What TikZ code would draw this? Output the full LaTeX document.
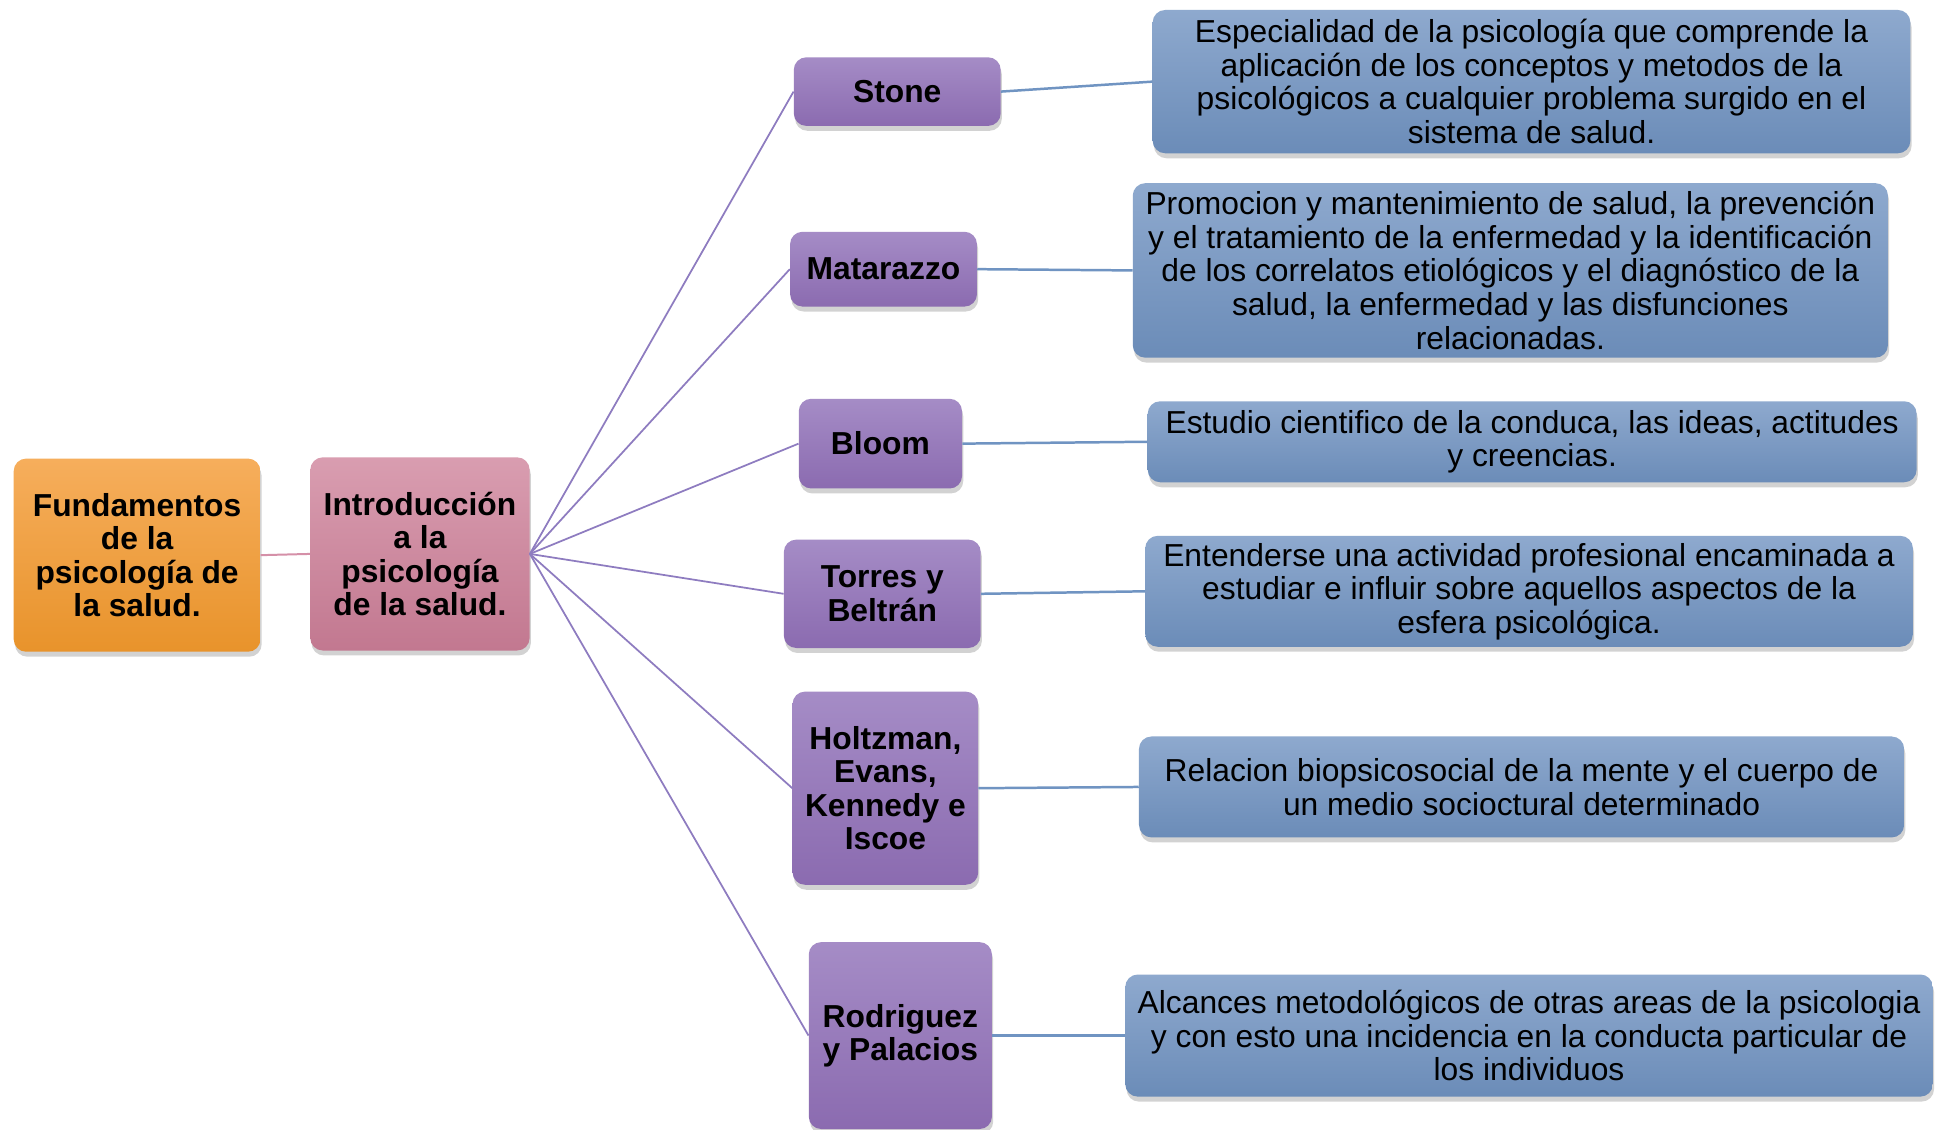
\documentclass[tikz,border=0pt]{standalone}
\usepackage{fontspec}
\setmainfont{Liberation Sans}
\usetikzlibrary{shadows}
\definecolor{orTop}{HTML}{F6AE5C}
\definecolor{orBot}{HTML}{E8932B}
\definecolor{pkTop}{HTML}{D99DB0}
\definecolor{pkBot}{HTML}{C27890}
\definecolor{puTop}{HTML}{A58CC6}
\definecolor{puBot}{HTML}{8B6BB0}
\definecolor{blTop}{HTML}{8EA9CE}
\definecolor{blBot}{HTML}{6B8CB8}
\definecolor{puLine}{HTML}{8E7CC0}
\definecolor{blLine}{HTML}{7094C2}
\definecolor{pkLine}{HTML}{D590A8}
\tikzset{
  box/.style={rounded corners=10bp, align=center, inner sep=1bp,
    font=\fontsize{25.6}{27}\selectfont,
    drop shadow={opacity=0.35, shadow xshift=1bp, shadow yshift=-4bp}},
  orbox/.style={box, top color=orTop, bottom color=orBot, font=\fontsize{25.6}{27}\selectfont\bfseries},
  pkbox/.style={box, top color=pkTop, bottom color=pkBot, font=\fontsize{25.6}{27}\selectfont\bfseries},
  pubox/.style={box, top color=puTop, bottom color=puBot, font=\fontsize{25.6}{27}\selectfont\bfseries},
  blbox/.style={box, top color=blTop, bottom color=blBot},
  puconn/.style={draw=puLine, line width=1.4bp},
  blconn/.style={draw=blLine, line width=2bp},
  pkconn/.style={draw=pkLine, line width=1.6bp},
}
\begin{document}
\begin{tikzpicture}[x=1bp,y=-1bp]
\useasboundingbox[fill=white] (0,0) rectangle (1560,906);
\node[orbox, minimum width=198bp, minimum height=155bp] (fund) at (110,445.5) {Fundamentos\\de la\\psicología de\\la salud.};
\node[pkbox, minimum width=176bp, minimum height=155bp] (intro) at (337,444.5) {Introducción\\a la\\psicología\\de la salud.};
\node[pubox, minimum width=166bp, minimum height=55bp] (stone) at (720,73.5) {Stone};
\node[pubox, minimum width=150bp, minimum height=60bp] (mata) at (709,216) {Matarazzo};
\node[pubox, minimum width=131bp, minimum height=72bp] (bloom) at (706.5,356) {Bloom};
\node[pubox, minimum width=158bp, minimum height=87bp] (torres) at (708,476.5) {Torres y\\Beltrán};
\node[pubox, minimum width=149bp, minimum height=155bp] (holtz) at (710.5,632.5) {Holtzman,\\Evans,\\Kennedy e\\Iscoe};
\node[pubox, minimum width=147bp, minimum height=150bp] (rodri) at (722.5,831) {Rodriguez\\y Palacios};
\node[blbox, minimum width=608bp, minimum height=115bp] (d1) at (1229,65.5) {Especialidad de la psicología que comprende la\\aplicación de los conceptos y metodos de la\\psicológicos a cualquier problema surgido en el\\sistema de salud.};
\node[blbox, minimum width=606bp, minimum height=140bp] (d2) at (1212,217) {Promocion y mantenimiento de salud, la prevención\\y el tratamiento de la enfermedad y la identificación\\de los correlatos etiológicos y el diagnóstico de la\\salud, la enfermedad y las disfunciones\\relacionadas.};
\node[blbox, minimum width=617bp, minimum height=65bp] (d3) at (1229.5,354.5) {Estudio cientifico de la conduca, las ideas, actitudes\\y creencias.};
\node[blbox, minimum width=616bp, minimum height=89bp] (d4) at (1227,474.5) {Entenderse una actividad profesional encaminada a\\estudiar e influir sobre aquellos aspectos de la\\esfera psicológica.};
\node[blbox, minimum width=614bp, minimum height=81bp] (d5) at (1221,631.5) {Relacion biopsicosocial de la mente y el cuerpo de\\un medio socioctural determinado};
\node[blbox, minimum width=648bp, minimum height=98bp] (d6) at (1227,831) {Alcances metodológicos de otras areas de la psicologia\\y con esto una incidencia en la conducta particular de\\los individuos};
\draw[pkconn] (fund.east) -- (intro.west);
\foreach \n in {stone,mata,bloom,torres,holtz,rodri}
  \draw[puconn] (intro.east) -- (\n.west);
\draw[blconn] (stone.east) -- (d1.west);
\draw[blconn] (mata.east) -- (d2.west);
\draw[blconn] (bloom.east) -- (d3.west);
\draw[blconn] (torres.east) -- (d4.west);
\draw[blconn] (holtz.east) -- (d5.west);
\draw[blconn] (rodri.east) -- (d6.west);
\end{tikzpicture}
\end{document}
